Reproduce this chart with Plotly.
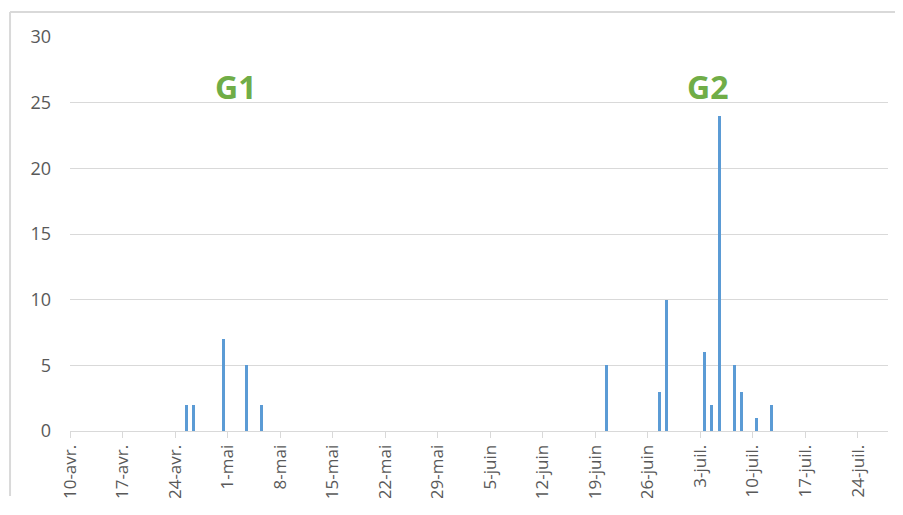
import plotly.graph_objects as go
import pandas as pd

# daily counts (dates without year on the chart, 2017 assumed)
dates = ["2017-04-25", "2017-04-26", "2017-04-30", "2017-05-03", "2017-05-05",
         "2017-06-20", "2017-06-27", "2017-06-28", "2017-07-03", "2017-07-04",
         "2017-07-05", "2017-07-07", "2017-07-08", "2017-07-10", "2017-07-12"]
counts = [2, 2, 7, 5, 2, 5, 3, 10, 6, 2, 24, 5, 3, 1, 2]

tick_dates = pd.date_range("2017-04-10", "2017-07-24", freq="7D")
tick_labels = ["10-avr.", "17-avr.", "24-avr.", "1-mai", "8-mai", "15-mai", "22-mai",
               "29-mai", "5-juin", "12-juin", "19-juin", "26-juin", "3-juil.",
               "10-juil.", "17-juil.", "24-juil."]

groups = ["G1", "G2"]
group_dates = ["2017-05-02", "2017-07-04"]

DAY = 86400000

fig = go.Figure()
fig.add_trace(go.Bar(
    x=pd.to_datetime(dates),
    y=counts,
    width=0.4 * DAY,
    offset=0.3 * DAY,  # Excel centres bars between tick marks
    marker=dict(color="#5b9bd5", line=dict(width=0)),
    showlegend=False,
))

for g, d in zip(groups, group_dates):
    fig.add_annotation(x=pd.Timestamp(d), y=26.2, text="<b>%s</b>" % g, showarrow=False,
                       font=dict(size=32, color="#70ad47", family="Open Sans"))

# outer chart frame, kept inside the paper (top + left edge)
fig.add_shape(type="line", xref="paper", yref="paper", x0=-0.0733, x1=1.017, y0=1.0635, y1=1.0635,
              line=dict(color="#d9d9d9", width=2))
fig.add_shape(type="line", xref="paper", yref="paper", x0=-0.0733, x1=-0.0733, y0=1.0635, y1=-0.165,
              line=dict(color="#d9d9d9", width=2))

# page body has an 8px margin, keep the figure inside the window
fig.update_layout(
    width=894, height=490,
    margin=dict(l=62, r=14, t=29, b=67),
    plot_bgcolor="white", paper_bgcolor="white",
    font=dict(family="Open Sans", size=13, color="#595959"),
    bargap=0,
    xaxis=dict(
        range=[pd.Timestamp("2017-04-10"), pd.Timestamp("2017-07-28")],
        tickvals=tick_dates, ticktext=tick_labels, tickangle=-90,
        showgrid=False, showline=True, linecolor="#d9d9d9", linewidth=1,
        ticks="outside", ticklen=6, tickcolor="#d9d9d9",
        tickfont=dict(size=17, color="#595959"), automargin=False,
    ),
    yaxis=dict(
        range=[0, 30], dtick=5, showgrid=True, gridcolor="#d9d9d9", gridwidth=1,
        zeroline=False, showline=False, ticks="", ticklabelstandoff=18,
        tickfont=dict(size=18, color="#595959"), automargin=False,
    ),
)

fig.write_html("out.html")
